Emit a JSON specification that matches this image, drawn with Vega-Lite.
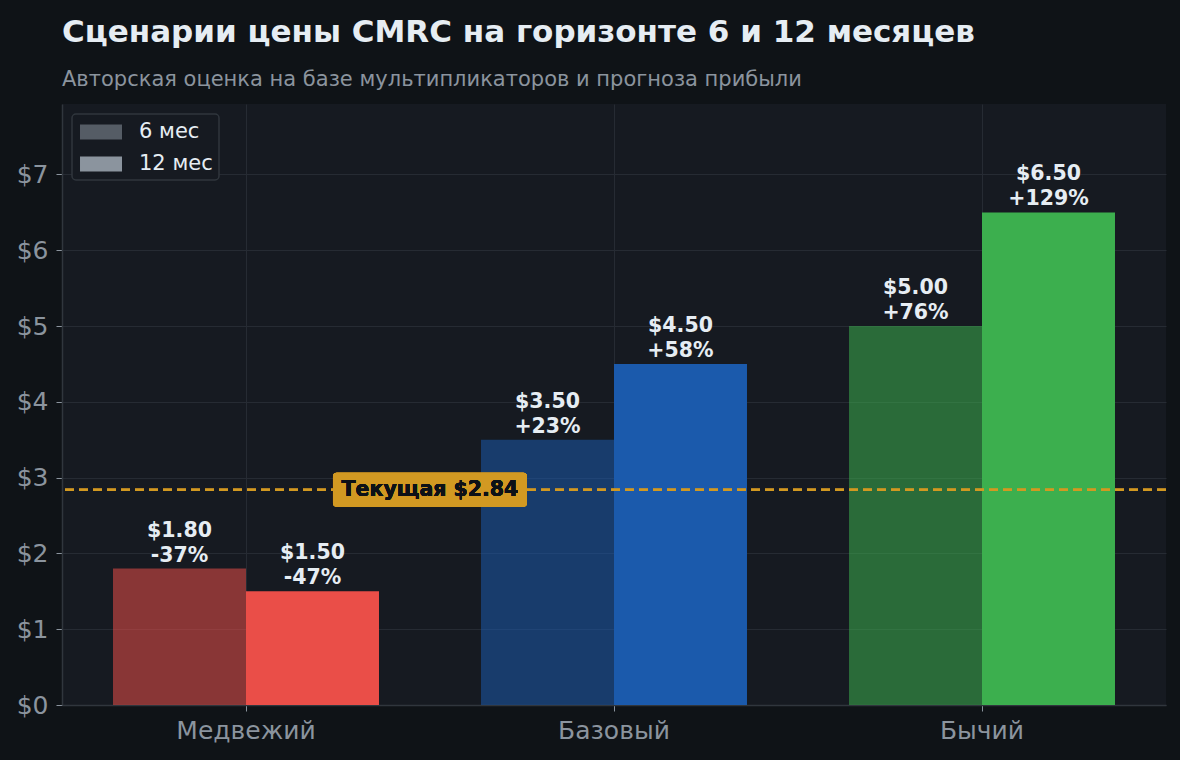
{
  "$schema": "https://vega.github.io/schema/vega-lite/v6.json",
  "width": 1104,
  "height": 601,
  "autosize": {"type": "none"},
  "padding": {"left": 62, "top": 104, "right": 14, "bottom": 55},
  "background": "#0f1317",
  "config": {
    "view": {"fill": "#161a21", "stroke": null},
    "font": "DejaVu Sans",
    "axis": {
      "labelFont": "DejaVu Sans",
      "labelFontSize": 25,
      "labelColor": "#8b949e",
      "domainColor": "#30363d",
      "domainWidth": 1.5,
      "tickColor": "#8b949e",
      "tickSize": 6,
      "gridColor": "#262b33",
      "gridWidth": 1,
      "title": null
    },
    "legend": {
      "orient": "top-left",
      "offset": 10,
      "padding": 6,
      "fillColor": "#161a21",
      "strokeColor": "#30363d",
      "strokeWidth": 1.5,
      "cornerRadius": 4,
      "symbolType": "M-0.833,-0.625 L2.667,-0.625 L2.667,0.625 L-0.833,0.625 Z",
      "symbolSize": 576,
      "symbolFillColor": "#8b949e",
      "symbolStrokeWidth": 0,
      "labelOffset": 37,
      "labelFont": "DejaVu Sans",
      "labelFontSize": 21,
      "labelColor": "#e6edf3",
      "rowPadding": 10
    }
  },
  "title": {
    "text": "Сценарии цены CMRC на горизонте 6 и 12 месяцев",
    "subtitle": "Авторская оценка на базе мультипликаторов и прогноза прибыли",
    "anchor": "start",
    "frame": "group",
    "font": "DejaVu Sans",
    "fontSize": 31,
    "fontWeight": "bold",
    "color": "#e6edf3",
    "subtitleFont": "DejaVu Sans",
    "subtitleFontSize": 21,
    "subtitleColor": "#8b949e",
    "subtitlePadding": 20,
    "offset": 13
  },
  "data": {
    "values": [
      {"scenario": "Медвежий", "period": "6 мес", "price": 1.8, "label": "$1.80\n-37%"},
      {"scenario": "Медвежий", "period": "12 мес", "price": 1.5, "label": "$1.50\n-47%"},
      {"scenario": "Базовый", "period": "6 мес", "price": 3.5, "label": "$3.50\n+23%"},
      {"scenario": "Базовый", "period": "12 мес", "price": 4.5, "label": "$4.50\n+58%"},
      {"scenario": "Бычий", "period": "6 мес", "price": 5.0, "label": "$5.00\n+76%"},
      {"scenario": "Бычий", "period": "12 мес", "price": 6.5, "label": "$6.50\n+129%"}
    ]
  },
  "layer": [
    {
      "mark": {"type": "bar"},
      "encoding": {
        "x": {
          "field": "scenario",
          "type": "nominal",
          "scale": {"domain": ["Медвежий", "Базовый", "Бычий"], "paddingInner": 0.2772, "paddingOuter": 0.1386},
          "axis": {"labelAngle": 0, "grid": true, "bandPosition": 0.5, "labelPadding": 7}
        },
        "xOffset": {
          "field": "period",
          "type": "nominal",
          "scale": {"domain": ["6 мес", "12 мес"], "paddingInner": 0, "paddingOuter": 0}
        },
        "y": {
          "field": "price",
          "type": "quantitative",
          "scale": {"domain": [0, 7.93], "nice": false},
          "axis": {"values": [0, 1, 2, 3, 4, 5, 6, 7], "format": "$.0f", "grid": true, "labelPadding": 8}
        },
        "color": {
          "field": "scenario",
          "type": "nominal",
          "scale": {"domain": ["Медвежий", "Базовый", "Бычий"], "range": ["#ea4e48", "#1b5aac", "#3caf4e"]},
          "legend": null
        },
        "opacity": {
          "field": "period",
          "type": "nominal",
          "scale": {"domain": ["6 мес", "12 мес"], "range": [0.55, 1]},
          "legend": {"title": null}
        }
      }
    },
    {
      "mark": {"type": "text", "font": "DejaVu Sans", "fontSize": 20.5, "fontWeight": "bold", "color": "#e6edf3", "baseline": "bottom", "dy": -28, "lineBreak": "\n", "lineHeight": 25},
      "encoding": {
        "x": {"field": "scenario", "type": "nominal"},
        "xOffset": {"field": "period", "type": "nominal"},
        "y": {"field": "price", "type": "quantitative"},
        "text": {"field": "label", "type": "nominal"}
      }
    },
    {
      "mark": {"type": "rule", "color": "#d29922", "strokeDash": [9, 5], "strokeWidth": 2.2},
      "encoding": {"y": {"datum": 2.84, "type": "quantitative"}}
    },
    {
      "mark": {"type": "point", "shape": "M-0.96,-0.175 L0.96,-0.175 Q1,-0.175 1,-0.135 L1,0.135 Q1,0.175 0.96,0.175 L-0.96,0.175 Q-1,0.175 -1,0.135 L-1,-0.135 Q-1,-0.175 -0.96,-0.175 Z", "filled": true, "fill": "#d29922", "opacity": 1, "size": 37636, "strokeWidth": 0},
      "encoding": {
        "x": {"datum": "Медвежий", "type": "nominal", "bandPosition": 1.1917},
        "y": {"datum": 2.84, "type": "quantitative"}
      }
    },
    {
      "mark": {"type": "text", "text": "Текущая $2.84", "font": "DejaVu Sans", "fontSize": 20.5, "fontWeight": "bold", "color": "#0d1117", "align": "center", "baseline": "middle"},
      "encoding": {
        "x": {"datum": "Медвежий", "type": "nominal", "bandPosition": 1.1917},
        "y": {"datum": 2.84, "type": "quantitative"}
      }
    }
  ]
}
